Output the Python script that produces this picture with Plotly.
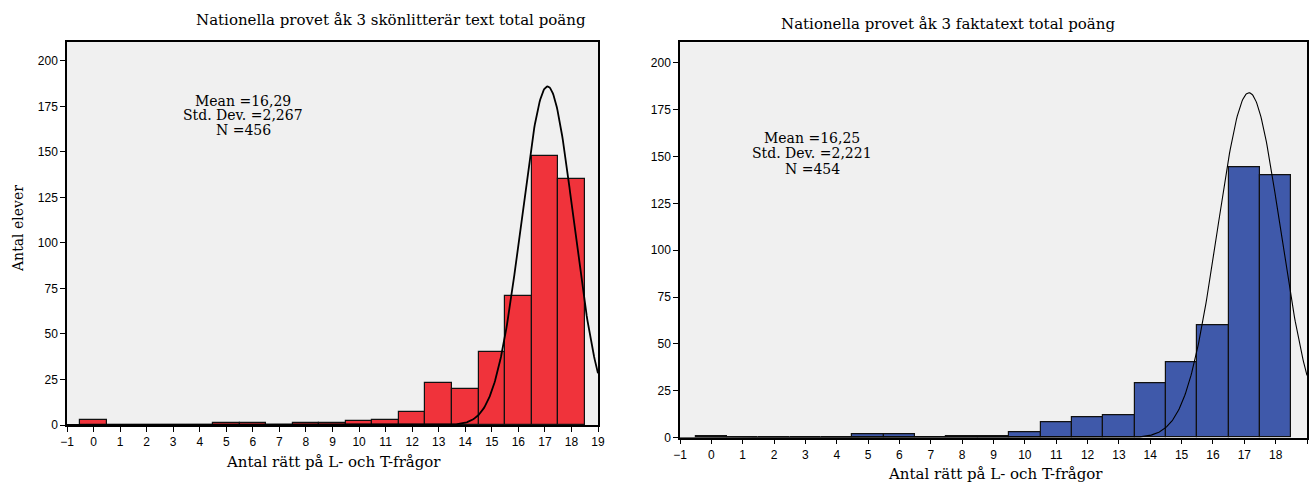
import numpy as np
import plotly.graph_objects as go

# ---- data ----
scores = list(range(0, 19))
counts_lit = [3, 0, 0, 0, 0, 1, 1, 0, 1, 1, 2, 3, 7, 23, 20, 40, 71, 148, 135]
counts_fakta = [1, 0, 0, 0, 0, 2, 2, 0, 1, 1, 3, 8, 11, 12, 29, 40, 60, 144, 140]
x_ticks = list(range(-1, 20))
y_ticks = [0, 25, 50, 75, 100, 125, 150, 175, 200]

title_lit = "Nationella provet åk 3 skönlitterär text total poäng"
title_fakta = "Nationella provet åk 3 faktatext total poäng"
stats_lit = ["Mean =16,29", "Std. Dev. =2,267", "N =456"]
stats_fakta = ["Mean =16,25", "Std. Dev. =2,221", "N =454"]
xlabel = "Antal rätt på L- och T-frågor"
ylabel = "Antal elever"

# normal-curve parameters as drawn in the picture (peak, centre, width)
curve_lit = dict(peak=186, mu=17.1, sigma=0.98)
curve_fakta = dict(peak=184, mu=17.15, sigma=1.0)

RED = "#F0333B"
BLUE = "#3F59AA"
WIDE_SERIF = "DejaVu Serif, serif"
SERIF = "Liberation Serif, Times New Roman, serif"
SANS = "Liberation Sans, Arial, sans-serif"
W, H = 1313, 483


def curve(p):
    xs = np.linspace(-1, 19, 801)
    ys = p["peak"] * np.exp(-0.5 * ((xs - p["mu"]) / p["sigma"]) ** 2)
    return xs, ys


fig = go.Figure()

for counts, color, xa, ya, cp, lw in [
    (counts_lit, RED, "x", "y", curve_lit, 1.8),
    (counts_fakta, BLUE, "x2", "y2", curve_fakta, 1.1),
]:
    fig.add_trace(go.Bar(
        x=scores, y=counts, width=1.0, marker=dict(color=color, line=dict(color="#111111", width=1.2)),
        xaxis=xa, yaxis=ya, showlegend=False, hoverinfo="x+y"))
    cx, cy = curve(cp)
    fig.add_trace(go.Scatter(
        x=cx, y=cy, mode="lines", line=dict(color="black", width=lw),
        xaxis=xa, yaxis=ya, showlegend=False, hoverinfo="skip"))

axis_common = dict(showline=True, linecolor="black", linewidth=1.5, mirror=True,
                   ticks="outside", ticklen=5, tickwidth=1.2, tickcolor="black",
                   showgrid=False, zeroline=False, automargin=False,
                   tickfont=dict(family=SANS, size=12, color="black"))


def ann(text, px, py, size=15, family=WIDE_SERIF):
    return dict(text=text, xref="paper", yref="paper", x=px / W, y=1 - py / H,
                showarrow=False, font=dict(family=family, size=size, color="black"),
                xanchor="center", yanchor="middle")


annotations = [
    ann(title_lit, 391, 20),
    ann(title_fakta, 948, 24),
    ann(xlabel, 333, 462),
    ann(xlabel, 995, 474),
    dict(text=ylabel, xref="paper", yref="paper", x=18 / W, y=1 - 229 / H, textangle=-90,
         showarrow=False, font=dict(family=WIDE_SERIF, size=14, color="black"),
         xanchor="center", yanchor="middle"),
]
for i, line in enumerate(stats_lit):
    annotations.append(ann(line, 243, 101 + 14.5 * i, size=14))
for i, line in enumerate(stats_fakta):
    annotations.append(ann(line, 812, 138 + 15.5 * i, size=14))

fig.update_layout(
    width=W, height=H,
    margin=dict(l=0, r=0, t=0, b=0),
    paper_bgcolor="white",
    plot_bgcolor="#F0F0F0",
    bargap=0,
    xaxis=dict(domain=[67 / W, 598 / W], range=[-1, 19], tickvals=x_ticks, anchor="y", **axis_common),
    yaxis=dict(domain=[1 - 425 / H, 1 - 42 / H], range=[0, 210.4], tickvals=y_ticks, anchor="x",
               **axis_common),
    xaxis2=dict(domain=[680 / W, 1307 / W], range=[-1, 19], tickvals=x_ticks, anchor="y2", **axis_common),
    yaxis2=dict(domain=[1 - 437.7 / H, 1 - 42.3 / H], range=[0, 210.9], tickvals=y_ticks, anchor="x2",
                **axis_common),
    annotations=annotations,
)

fig.write_html("out.html", config={"displayModeBar": False},
               post_script="document.body.style.margin='0';document.body.style.overflow='hidden';")
